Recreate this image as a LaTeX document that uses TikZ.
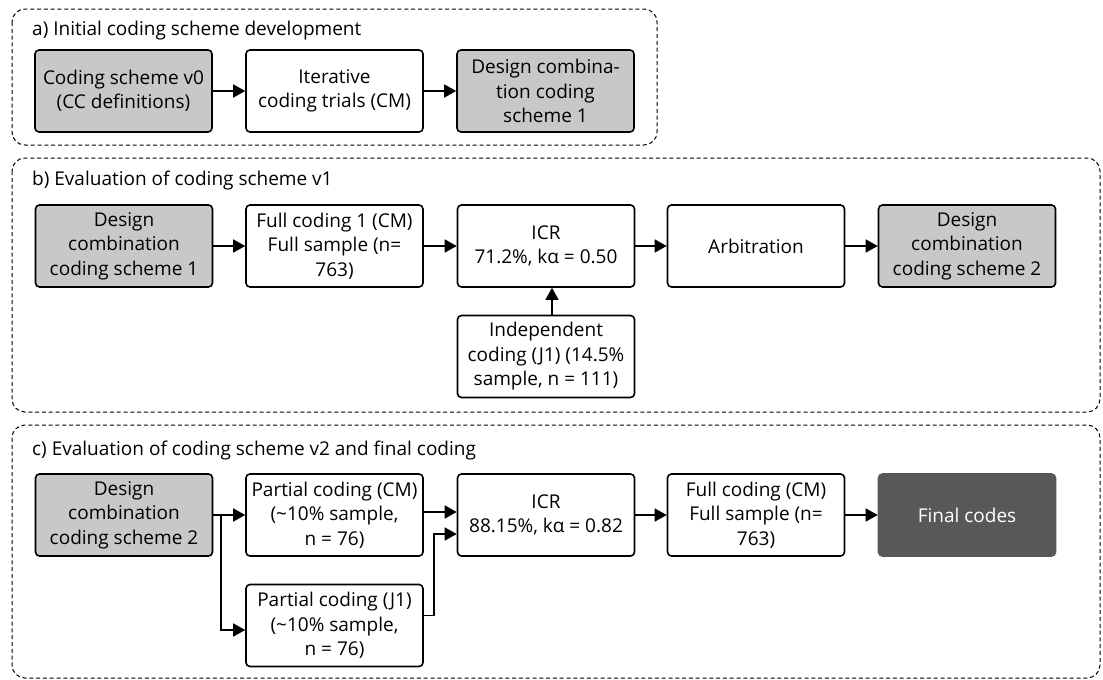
\documentclass[tikz,border=0pt]{standalone}
\usepackage{fontspec}
\setmainfont{Open Sans}
\usetikzlibrary{arrows.meta}
\definecolor{boxgray}{HTML}{C8C8C8}
\definecolor{darkbox}{HTML}{585858}
\begin{document}
\begin{tikzpicture}[x=1pt,y=-1pt,
  every node/.style={font=\fontsize{19}{24.5}\selectfont},
  stage/.style={draw=black, line width=1.6pt, rounded corners=4pt, fill=white,
    minimum width=177pt, minimum height=82pt, align=center, inner sep=0pt},
  grey/.style={stage, fill=boxgray},
  final/.style={stage, draw=darkbox, fill=darkbox, text=white},
  section/.style={draw=black, line width=1pt, dash pattern=on 4pt off 2.8pt, rounded corners=13pt},
  title/.style={anchor=base west, inner sep=0pt},
  arr/.style={line width=1.6pt, -{Triangle[length=12pt,width=13pt]}},
  ln/.style={line width=1.6pt}
]
\useasboundingbox (0,0) rectangle (1103,680);

% dashed frames of the three stages
\draw[section] (12,9) rectangle (657,145);
\draw[section] (12,158) rectangle (1100,412);
\draw[section] (12,425) rectangle (1100,678);

\node[title] (ta) at (32,35) {a) Initial coding scheme development};
\node[title] (tb) at (32,185) {b) Evaluation of coding scheme v1};
\node[title] (tc) at (32,455) {c) Evaluation of coding scheme v2 and final coding};

% a) initial development
\node[grey]  (a1) at (123.5,91) {Coding scheme v0\\(CC definitions)};
\node[stage] (a2) at (334.5,91) {Iterative\\coding trials (CM)};
\node[grey]  (a3) at (545.5,91) {Design combina-\\tion coding\\scheme 1};
\draw[arr] (a1) -- (a2);
\draw[arr] (a2) -- (a3);

% b) evaluation of v1
\node[grey]  (b1) at (124,246) {Design\\combination\\coding scheme 1};
\node[stage] (b2) at (334.5,246) {Full coding 1 (CM)\\Full sample (n=\\763)};
\node[stage] (b3) at (546,246) {ICR\\71.2\%, kα = 0.50};
\node[stage] (b4) at (756,246) {Arbitration};
\node[grey]  (b5) at (967,246) {Design\\combination\\coding scheme 2};
\node[stage] (b6) at (546,356.5) {Independent\\coding (J1) (14.5\%\\sample, n = 111)};
\draw[arr] (b1) -- (b2);
\draw[arr] (b2) -- (b3);
\draw[arr] (b3) -- (b4);
\draw[arr] (b4) -- (b5);
\draw[arr] ([xshift=6pt]b6.north) -- ([xshift=6pt]b3.south);

% c) evaluation of v2 and final coding
\node[grey]  (c1) at (124,515) {Design\\combination\\coding scheme 2};
\node[stage] (c2) at (334.5,515) {Partial coding (CM)\\(\textasciitilde10\% sample,\\n = 76)};
\node[stage] (c3) at (334.5,625.5) {Partial coding (J1)\\(\textasciitilde10\% sample,\\n = 76)};
\node[stage] (c4) at (546,515) {ICR\\88.15\%, kα = 0.82};
\node[stage] (c5) at (756,515) {Full coding (CM)\\Full sample (n=\\763)};
\node[final] (c6) at (967,515) {Final codes};

\coordinate (fork) at (221,515);
\draw[ln] (c1.east) -- (fork);
\draw[arr] (fork) -- (c2.west);
\draw[arr] (fork) |- ([yshift=-4.5pt]c3.west);
\draw[arr] ([yshift=3pt]c2.east) -- ([yshift=3pt]c4.west);
\draw[arr] ([yshift=10pt]c3.east) -- ++(10,0) |- ([yshift=-19pt]c4.west);
\draw[arr] (c4) -- (c5);
\draw[arr] (c5) -- (c6);
\end{tikzpicture}
\end{document}
